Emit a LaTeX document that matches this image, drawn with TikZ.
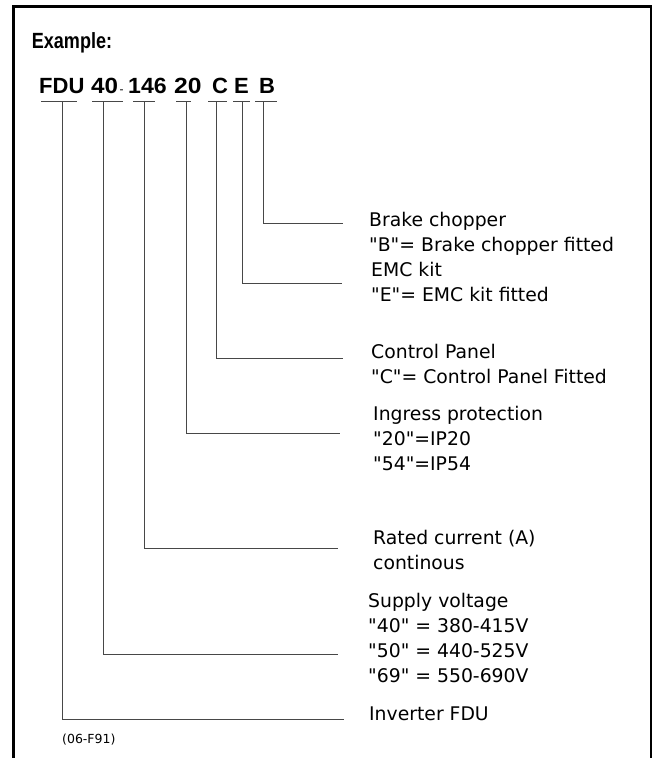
\documentclass[tikz,border=0pt]{standalone}
\usepackage{graphicx}
\usepackage{fontspec}
\setmainfont{DejaVu Sans}
\newfontfamily\headfont{Liberation Sans}
\newfontfamily\lblfont{DejaVu Sans}
\begin{document}
\begin{tikzpicture}[x=1pt,y=-1pt,
  frame/.style={line width=3pt, black},
  conn/.style={line width=1pt, black!72},
  code/.style={font=\headfont\bfseries\fontsize{22}{26}\selectfont, inner sep=0pt, anchor=base west},
  lbl/.style={font=\lblfont\fontsize{18.8}{25}\selectfont, inner sep=0pt, anchor=base west, align=left},
  note/.style={font=\lblfont\fontsize{12.5}{15}\selectfont, inner sep=0pt, anchor=base west},
]
\useasboundingbox (0,0) rectangle (652,758);
\draw[frame] (13.5,760) -- (13.5,6) -- (651,6) -- (651,760);

\node[code] (ex) at (31.7,48) {\scalebox{0.82}[1]{Example:}};

% code pieces
\node[code] (fdu) at (39,93) {FDU};
\node[code] (n40) at (91,93) {\scalebox{1.1}[1]{40}};
\node[inner sep=0pt, anchor=base west, font=\headfont\fontsize{12}{14}\selectfont] (hy) at (119.5,93) {-};
\node[code] (n146) at (128,93) {\scalebox{1.05}[1]{146}};
\node[code] (n20) at (174,93) {\scalebox{1.12}[1]{20}};
\node[code] (nC) at (212,93) {C};
\node[code] (nE) at (234,93) {E};
\node[code] (nB) at (259,93) {B};

% underlines
\draw[conn] (41,101) -- (77,101);
\draw[conn] (92,101) -- (123,101);
\draw[conn] (133,101) -- (155,101);
\draw[conn] (176,101) -- (191,101);
\draw[conn] (208,101) -- (227,101);
\draw[conn] (233,101) -- (250,101);
\draw[conn] (255,101) -- (277,101);

% connector start points
\coordinate (tFDU) at (62,101);
\coordinate (t40) at (103,101);
\coordinate (t146) at (144,101);
\coordinate (t20) at (186,101);
\coordinate (tC) at (216,101);
\coordinate (tE) at (242,101);
\coordinate (tB) at (263,101);

% connector end points
\coordinate (eFDU) at (344,719);
\coordinate (e40) at (338,654);
\coordinate (e146) at (338,548);
\coordinate (e20) at (340,433);
\coordinate (eC) at (343,358);
\coordinate (eE) at (342,283);
\coordinate (eB) at (343,223);

\draw[conn] (tFDU) |- (eFDU);
\draw[conn] (t40) |- (e40);
\draw[conn] (t146) |- (e146);
\draw[conn] (t20) |- (e20);
\draw[conn] (tC) |- (eC);
\draw[conn] (tE) |- (eE);
\draw[conn] (tB) |- (eB);

% labels (anchored at the baseline of the last line)
\node[lbl] (lB) at (369,251) {Brake chopper\\"B"= Brake chopper fitted};
\node[lbl] (lE) at (371,301) {EMC kit\\"E"= EMC kit fitted};
\node[lbl] (lC) at (371,383) {Control Panel\\"C"= Control Panel Fitted};
\node[lbl] (l20) at (373,470) {Ingress protection\\"20"=IP20\\"54"=IP54};
\node[lbl] (l146) at (373,569) {Rated current (A)\\continous};
\node[lbl] (l40) at (368,682) {Supply voltage\\"40" = 380-415V\\"50" = 440-525V\\"69" = 550-690V};
\node[lbl] (lFDU) at (369,720) {Inverter FDU};
\node[note] (ref) at (62,743) {(06-F91)};
\end{tikzpicture}
\end{document}
